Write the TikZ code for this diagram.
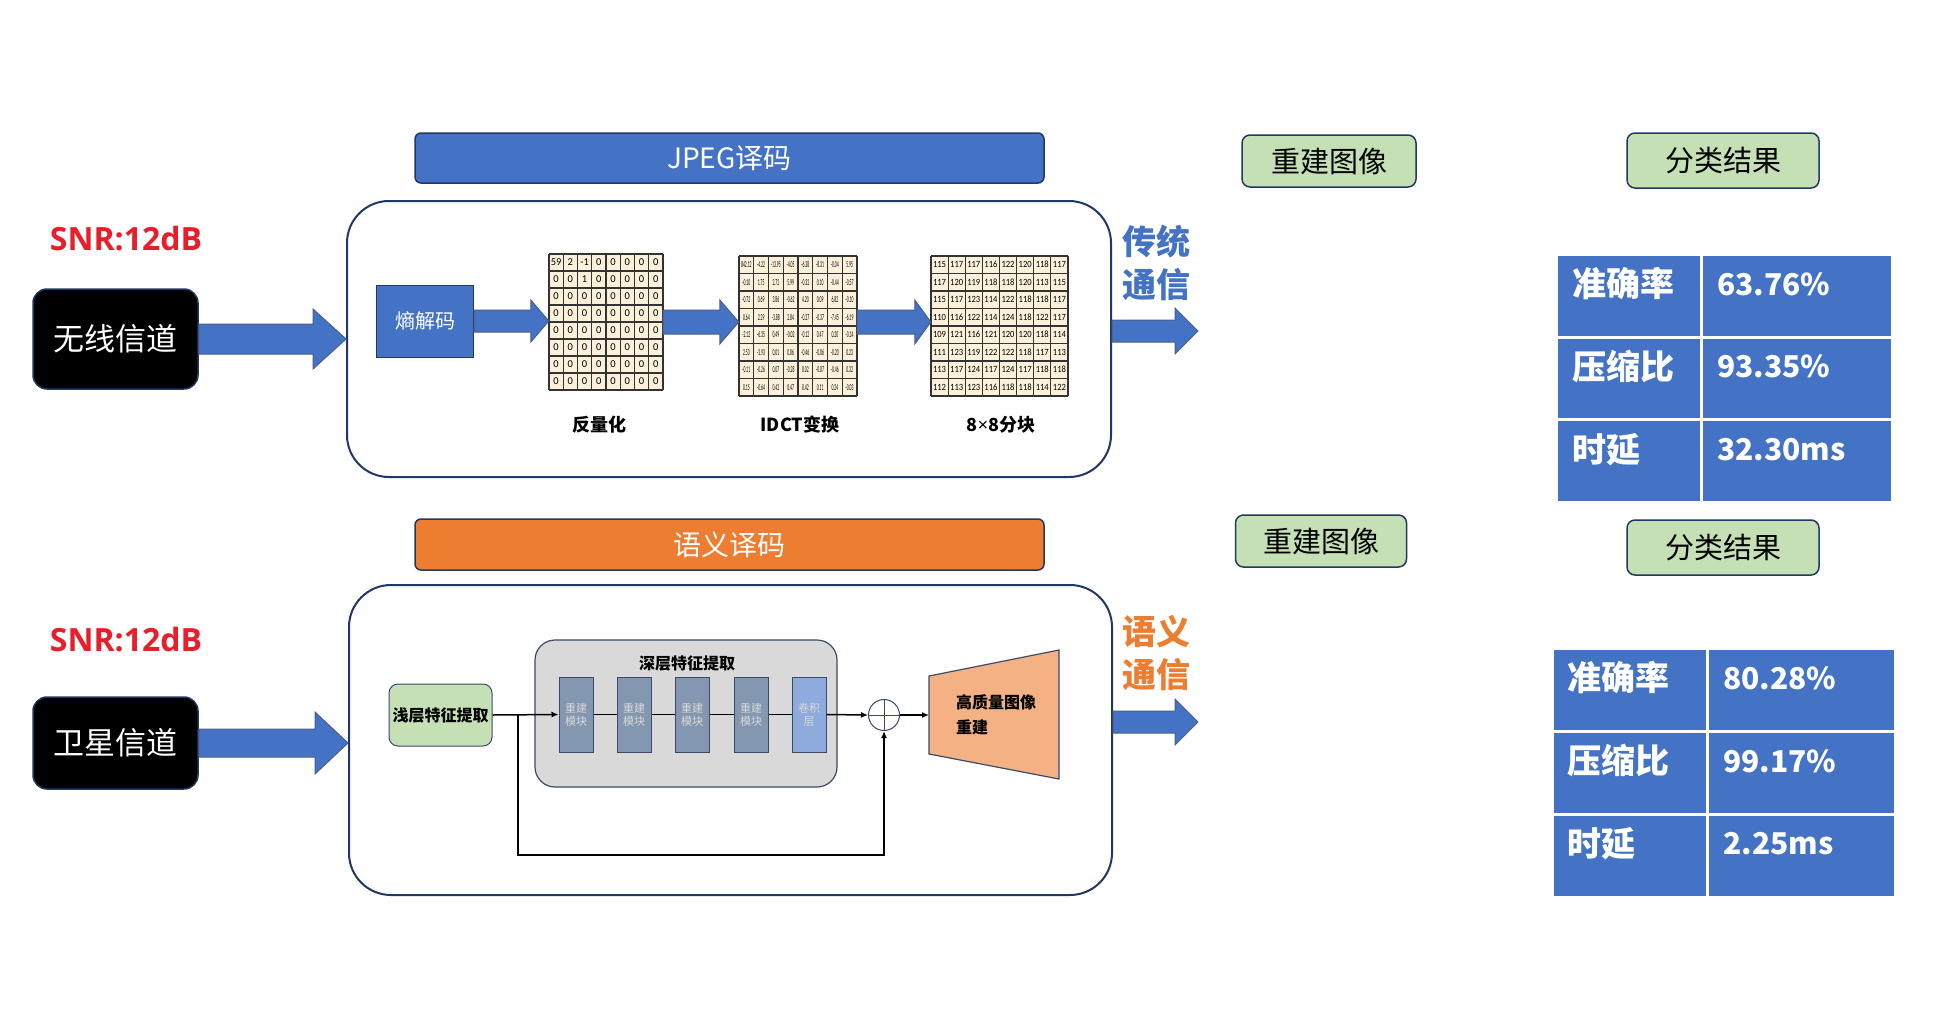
\documentclass[tikz,border=0pt]{standalone}
\usepackage{fontspec}
\usepackage{graphicx}
\setmainfont{Noto Sans CJK SC}
\newfontfamily\numfont{Carlito}
\newfontfamily\snrfont{Open Sans}
\newfontfamily\latinfont{Noto Sans}
\usetikzlibrary{calc,arrows.meta}
\definecolor{navy}{HTML}{203864}
\definecolor{pblue}{HTML}{4472C4}
\definecolor{porange}{HTML}{ED7D31}
\definecolor{pgreen}{HTML}{C5E0B4}
\definecolor{snrred}{HTML}{E81E2A}
\definecolor{slate}{HTML}{8497B0}
\definecolor{lslate}{HTML}{8FAADC}
\definecolor{graybox}{HTML}{D9D9D9}
\definecolor{slateborder}{HTML}{3B4A6B}
\definecolor{peach}{HTML}{F4B183}
\definecolor{beige}{HTML}{FBF0DA}
\newcommand{\fs}[2]{\fontsize{#1}{#2}\selectfont}
% block arrow: start, tip, body half, head half, head length
\newcommand{\bigarrow}[5]{%
  \path[barrow] let \p1=#1, \p2=#2 in
   (\x1,\y1+#3) -- (\x2-#5,\y1+#3) -- (\x2-#5,\y1+#4) -- (\x2,\y1) --
   (\x2-#5,\y1-#4) -- (\x2-#5,\y1-#3) -- (\x1,\y1-#3) -- cycle;}
% matrix grid: name, x0, y0, cw, ch, font, hscale, rows
\newcommand{\matgrid}[8]{%
  \foreach \k in {0,...,8} {
    \draw[mgrid] ({#2+\k*#4},#3) -- ({#2+\k*#4},{#3+8*#5});
    \draw[mgrid] (#2,{#3+\k*#5}) -- ({#2+8*#4},{#3+\k*#5});
  }
  \foreach \rw [count=\i] in {#8} {
    \foreach \v [count=\j] in \rw {
      \node[mnum, font=#6] (#1-\i-\j) at ({#2+(\j-0.5)*#4},{#3+(\i-0.5)*#5}) {\scalebox{#7}[1]{\v}};
    }
  }
}
\begin{document}
\begin{tikzpicture}[x=1pt,y=-1pt,
  chan/.style={draw=navy, line width=1.5pt, fill=black, rounded corners=14pt, minimum width=165pt, text=white, font=\fs{31}{36}, inner sep=0},
  bigbox/.style={draw=navy, line width=2pt, fill=white, rounded corners=42pt, inner sep=0},
  bar/.style={draw=navy, line width=1.5pt, rounded corners=6pt, minimum width=629pt, text=white, font=\fs{28}{32}, inner sep=0},
  glabel/.style={draw=navy, line width=1.5pt, fill=pgreen, rounded corners=8pt, font=\fs{29}{34}, inner sep=0},
  barrow/.style={fill=pblue, draw=navy!80, line width=1pt},
  cell/.style={fill=pblue, draw=white, line width=3pt, inner sep=0},
  tabtxt/.style={text=white, font=\bfseries\fs{34}{40}, anchor=west, inner sep=0},
  tabnum/.style={text=white, font=\bfseries\fs{30}{36}, anchor=west, inner sep=0},
  snr/.style={text=snrred, font=\snrfont\bfseries\fs{32}{38}},
  matlab/.style={font=\bfseries\fs{18}{22}},
  mgrid/.style={draw=black!80, line width=1.2pt},
  mnum/.style={inner sep=0},
  blk/.style={fill=slate, draw=slateborder, line width=1pt, minimum width=34pt, minimum height=75pt, inner sep=0, text=graybox, font=\fs{11}{13}, align=center},
  thinarr/.style={line width=1.5pt, -{Latex[length=7pt,width=6pt]}},
  thinline/.style={line width=1.5pt},
  commlab/.style={font=\bfseries\fs{34}{43}, align=center}
]
\fill[white] (0,0) rectangle (1942,1033);
\useasboundingbox (0,0) rectangle (1942,1033);

% ---------------- top: traditional ----------------
\node[snr] (snr1) at (126,239) {SNR:12dB};
\node[chan, minimum height=100pt] (wx) at (115.5,339) {无线信道};
\node[bigbox, minimum width=764pt, minimum height=276pt] (jbox) at (729,339) {};
\node[bar, fill=pblue, minimum height=50pt] (jbar) at (729.5,158) {JPEG译码};
\bigarrow{(wx.east)}{(jbox.west)}{15pt}{30pt}{33pt}

\node[fill=pblue, draw=navy, line width=1pt, minimum width=97pt, minimum height=72pt, text=white, font=\fs{20}{24}, inner sep=0] (ent) at (425,321) {熵解码};

\node[fill=beige, minimum width=114pt, minimum height=136pt, inner sep=0] (m1) at (606,322) {};
\node[fill=beige, minimum width=118pt, minimum height=140pt, inner sep=0] (m2) at (798,326) {};
\node[fill=beige, minimum width=137pt, minimum height=140pt, inner sep=0] (m3) at (999.5,326) {};

\matgrid{m1}{549}{254}{14.25}{17}{\numfont\fs{10.5}{11}}{1}{%
{59,2,-1,0,0,0,0,0},{0,0,1,0,0,0,0,0},{0,0,0,0,0,0,0,0},{0,0,0,0,0,0,0,0},%
{0,0,0,0,0,0,0,0},{0,0,0,0,0,0,0,0},{0,0,0,0,0,0,0,0},{0,0,0,0,0,0,0,0}}
\matgrid{m2}{739}{256}{14.75}{17.5}{\numfont\fs{9}{10}}{0.42}{%
{842.12,-4.22,-13.95,-4.05,-6.38,-8.31,-0.04,5.95},%
{-0.10,1.75,2.72,5.99,-0.32,0.10,-0.44,-0.57},%
{-0.72,0.69,3.86,-0.62,4.20,0.09,6.82,-0.10},%
{0.64,2.29,-3.88,2.84,-0.27,-0.37,-7.45,-6.19},%
{-2.12,-6.35,0.49,-0.02,-0.12,0.47,0.20,-0.14},%
{2.53,-3.93,0.01,0.06,-0.46,-0.06,-0.20,0.23},%
{-0.11,-0.26,0.07,-0.28,0.02,-0.07,-0.46,0.32},%
{0.15,-0.64,0.42,0.47,0.42,0.11,0.24,-0.03}}
\matgrid{m3}{931}{256}{17.125}{17.5}{\numfont\fs{9.5}{10}}{0.9}{%
{115,117,117,116,122,120,118,117},%
{117,120,119,118,118,120,113,115},%
{115,117,123,114,122,118,118,117},%
{110,116,122,114,124,118,122,117},%
{109,121,116,121,120,120,118,114},%
{111,123,119,122,122,118,117,113},%
{113,117,124,117,124,117,118,118},%
{112,113,123,116,118,118,114,122}}

\bigarrow{(ent.east)}{(m1.west |- ent.east)}{11pt}{21pt}{18pt}
\bigarrow{(m1.east)}{(m2.west |- m1.east)}{12pt}{22pt}{19pt}
\bigarrow{(m2.east |- m1.east)}{(m3.west |- m1.east)}{12pt}{22pt}{16pt}

\node[matlab] (l1) at (599,425) {反量化};
\node[matlab] (l2) at (800,425) {IDCT变换};
\node[matlab] (l3) at (1001,425) {8{\latinfont ×}8分块};

\node[commlab, text=pblue] (trad) at (1156,262.5) {传统\\通信};
\coordinate (o1) at (1198,331);
\bigarrow{(jbox.east |- o1)}{(o1)}{11pt}{23pt}{23pt}

\node[glabel, minimum width=174pt, minimum height=52pt] (r1) at (1329,161) {重建图像};
\node[glabel, minimum width=192pt, minimum height=55pt] (c1) at (1723,160.5) {分类结果};

\foreach \lab/\val [count=\r] in {准确率/63.76\%,压缩比/93.35\%,时延/32.30ms}{
  \pgfmathsetmacro{\yt}{253+(\r-1)*82.67}
  \node[cell, anchor=north west, minimum width=145pt, minimum height=82.67pt] (ta\r) at (1555,\yt) {};
  \node[cell, anchor=north west, minimum width=191pt, minimum height=82.67pt] (tb\r) at (1700,\yt) {};
  \node[tabtxt] (ta\r-t) at ($(ta\r.north west)+(17,31)$) {\lab};
  \node[tabnum] (tb\r-t) at ($(tb\r.north west)+(17,31)$) {\val};
}

% ---------------- bottom: semantic ----------------
\node[snr] (snr2) at (126,640) {SNR:12dB};
\node[chan, minimum height=92pt] (sat) at (115.5,743) {卫星信道};
\node[bigbox, minimum width=763pt, minimum height=310pt] (sbox) at (730.5,740) {};
\node[bar, fill=porange, minimum height=51pt] (sbar) at (729.5,544.5) {语义译码};
\bigarrow{(sat.east)}{(sbox.west |- sat.east)}{14pt}{31pt}{33pt}

\node[fill=pgreen, draw=slateborder, line width=1pt, rounded corners=9pt, minimum width=103pt, minimum height=62pt, inner sep=0, font=\bfseries\fs{16}{19}] (sh) at (440.5,715) {浅层特征提取};
\node[fill=graybox, draw=slateborder, line width=1.2pt, rounded corners=20pt, minimum width=302pt, minimum height=147pt, inner sep=0] (deep) at (686,713.5) {};
\node[font=\bfseries\fs{16}{19}] (deeplab) at (687,663) {深层特征提取};

\coordinate (fb) at (518,715);
\coordinate (fbb) at (518,855);
\node[circle, draw=slateborder, fill=white, line width=1pt, minimum size=31pt, inner sep=0] (plus) at (884,715) {};
\coordinate (fbc) at (plus.south |- fbb);
\coordinate (trapin) at (929,715);

\node[blk] (b1) at (576,714.5) {重建\\模块};
\node[blk] (b2) at (634,714.5) {重建\\模块};
\node[blk] (b3) at (692,714.5) {重建\\模块};
\node[blk] (b4) at (751,714.5) {重建\\模块};
\node[blk, fill=lslate] (cv) at (809,714.5) {卷积\\层};

\draw[thinarr] (sh.east) -- (b1.west);
\draw[thinline] (b1.east) -- (b2.west);
\draw[thinline] (b2.east) -- (b3.west);
\draw[thinline] (b3.east) -- (b4.west);
\draw[thinline] (b4.east) -- (cv.west);
\draw[thinarr] (cv.east) -- (plus.west);
\draw[line width=0.8pt, slateborder] (plus.north) -- (plus.south) (plus.west) -- (plus.east);
\draw[thinarr] (fb) -- (fbb) -- (fbc) -- (plus.south);

\draw[fill=peach, draw=slateborder, line width=1.2pt] (trapin |- 0,676) -- (1059,650) -- (1059,779) -- (trapin |- 0,754) -- cycle;
\draw[thinarr] (plus.east) -- (trapin);
\node[anchor=west, align=left, font=\bfseries\fs{16}{25}, inner sep=0] (hq) at (956,714.5) {高质量图像\\重建};

\node[commlab, text=porange] (sem) at (1156,653.5) {语义\\通信};
\coordinate (o2) at (1198,722);
\bigarrow{(sbox.east |- o2)}{(o2)}{11pt}{23pt}{23pt}

\node[glabel, minimum width=171pt, minimum height=52pt] (r2) at (1321,541) {重建图像};
\node[glabel, minimum width=192pt, minimum height=55pt] (c2) at (1723,547.5) {分类结果};

\foreach \lab/\val [count=\r] in {准确率/80.28\%,压缩比/99.17\%,时延/2.25ms}{
  \pgfmathsetmacro{\yt}{647+(\r-1)*83}
  \node[cell, anchor=north west, minimum width=155pt, minimum height=83pt] (sa\r) at (1551,\yt) {};
  \node[cell, anchor=north west, minimum width=188pt, minimum height=83pt] (sb\r) at (1706,\yt) {};
  \node[tabtxt] (sa\r-t) at ($(sa\r.north west)+(16,31)$) {\lab};
  \node[tabnum] (sb\r-t) at ($(sb\r.north west)+(17,31)$) {\val};
}
\end{tikzpicture}
\end{document}
